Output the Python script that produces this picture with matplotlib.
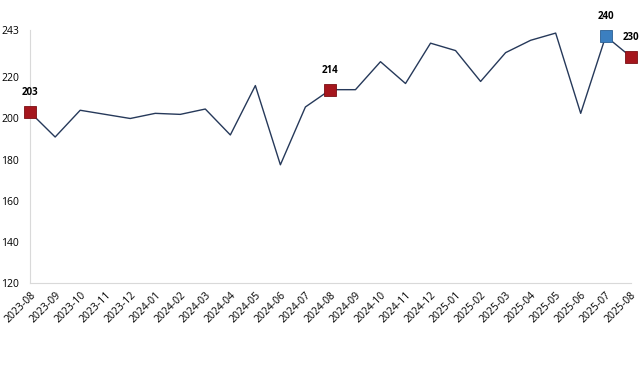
import matplotlib
matplotlib.use("Agg")
import matplotlib.pyplot as plt

months = ["2023-08", "2023-09", "2023-10", "2023-11", "2023-12",
          "2024-01", "2024-02", "2024-03", "2024-04", "2024-05", "2024-06",
          "2024-07", "2024-08", "2024-09", "2024-10", "2024-11", "2024-12",
          "2025-01", "2025-02", "2025-03", "2025-04", "2025-05", "2025-06",
          "2025-07", "2025-08"]
values = [203, 191, 204, 202, 200, 202.5, 202, 204.6, 192, 216, 177.5,
          205.6, 214, 214, 227.6, 217, 236.6, 233, 218, 232, 238, 241.5,
          202.5, 240, 230]
red_idx = [0, 12, 24]
blue_idx = [23]
yticks = [120, 140, 160, 180, 200, 220, 243]

plt.rcParams['font.family'] = ['Open Sans', 'DejaVu Sans']

fig = plt.figure(figsize=(6.41, 3.75), dpi=100)
ax = fig.add_axes([0.047, 0.245, 0.937, 0.675])

x = list(range(len(months)))
ax.plot(x, values, color="#26395a", linewidth=1.0, zorder=2)

def mark(i, face, edge):
    ax.plot(x[i], values[i], marker="s", markersize=8, color=face,
            markeredgecolor=edge, markeredgewidth=0.6, clip_on=False, zorder=3)
    ax.annotate(f"{values[i]:.0f}", (x[i], values[i]), xytext=(0, 10),
                textcoords="offset points", ha="center", va="bottom",
                fontsize=7, fontweight="bold", annotation_clip=False)

for i in red_idx:
    mark(i, "#a5161d", "#7a0f14")
for i in blue_idx:
    mark(i, "#3b7fc0", "#2a5f93")

ax.set_xlim(0, len(months) - 1)
ax.set_ylim(120, 243)
ax.set_yticks(yticks)
ax.set_yticklabels([str(t) for t in yticks], fontsize=7.5)
ax.set_xticks(x)
ax.set_xticklabels(months, fontsize=7.5, rotation=45, ha="right", va="top",
                   rotation_mode="anchor")

for s in ["top", "right"]:
    ax.spines[s].set_visible(False)
for s in ["left", "bottom"]:
    ax.spines[s].set_color("#d9d9d9")
    ax.spines[s].set_linewidth(0.8)
ax.tick_params(axis="both", length=0, pad=5)
ax.tick_params(axis="y", pad=8)

fig.savefig("out.png", dpi=100)
